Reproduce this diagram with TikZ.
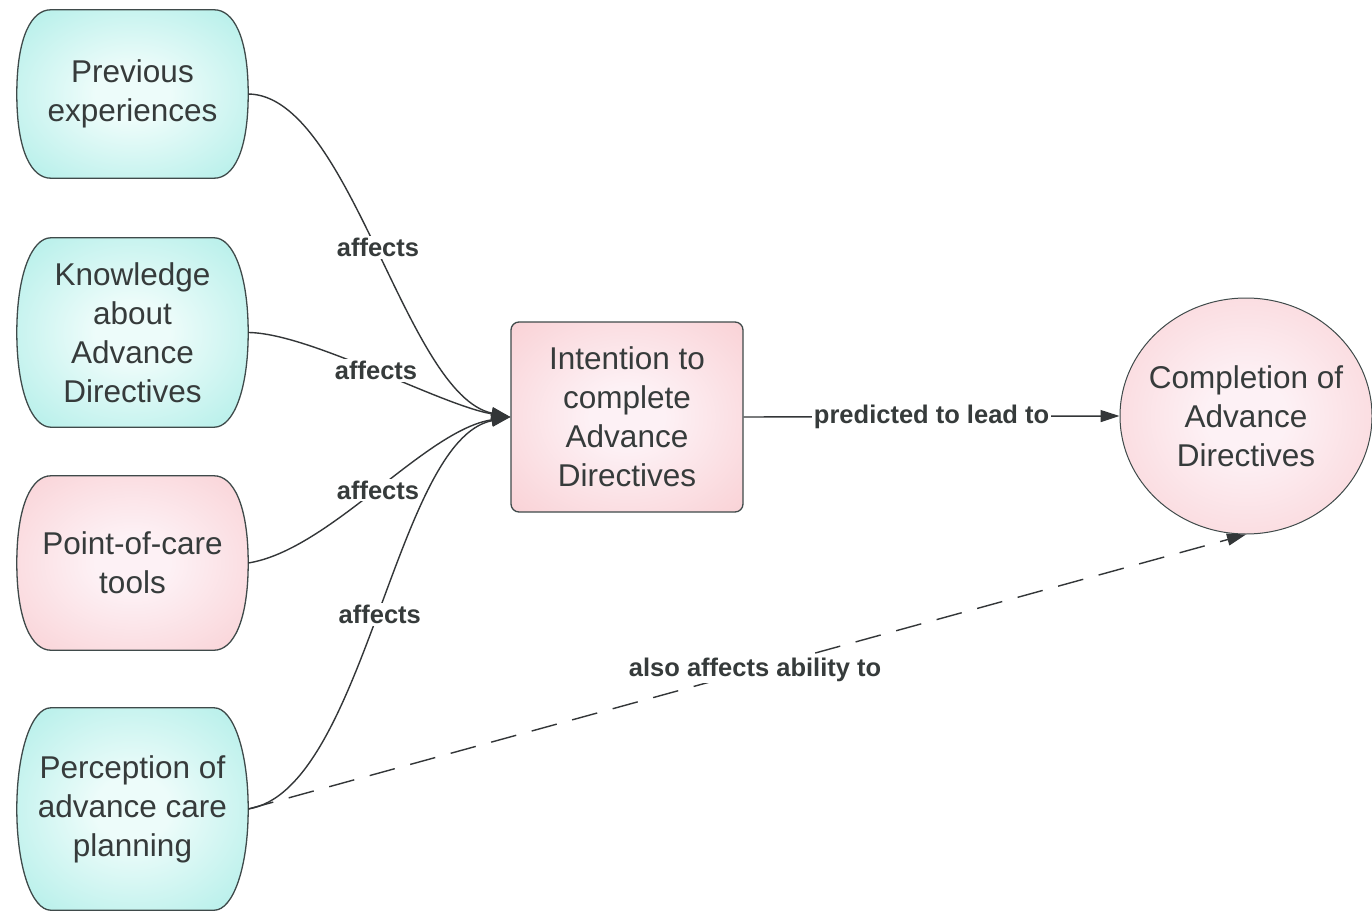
\documentclass[tikz,border=0pt]{standalone}
\usepackage{fontspec}
\setmainfont{Liberation Sans}
\usetikzlibrary{arrows.meta,calc,backgrounds,shapes.geometric}

\definecolor{ink}{HTML}{363B3B}
\definecolor{rim}{HTML}{3F4A4A}
\definecolor{wire}{HTML}{333638}
\definecolor{tealout}{HTML}{9EE8E1}
\definecolor{tealmid}{HTML}{BDF1EC}
\definecolor{tealin}{HTML}{EDFCFA}
\definecolor{pinkout}{HTML}{F7C6CA}
\definecolor{pinkmid}{HTML}{FAD8DC}
\definecolor{pinkin}{HTML}{FDF1F5}

% soft radial fills that reach the full colour only at the outline
\pgfdeclareradialshading{softteal}{\pgfpoint{0bp}{0bp}}{%
  color(0bp)=(tealin); color(8bp)=(tealin); color(30bp)=(tealmid);
  color(47bp)=(tealout); color(75bp)=(tealout)}
\pgfdeclareradialshading{softpink}{\pgfpoint{0bp}{0bp}}{%
  color(0bp)=(pinkin); color(8bp)=(pinkin); color(30bp)=(pinkmid);
  color(47bp)=(pinkout); color(75bp)=(pinkout)}

% barrel outline: flat top and bottom, bulging sides, built on a node's anchors
\newcommand\barrelpath[1]{%
  ($(#1.north west)+(34,0)$) -- ($(#1.north east)+(-34,0)$)
  .. controls ($(#1.north east)+(-15,0)$) and ($(#1.east)+(0,-58)$) .. (#1.east)
  .. controls ($(#1.east)+(0,58)$) and ($(#1.south east)+(-15,0)$) .. ($(#1.south east)+(-34,0)$)
  -- ($(#1.south west)+(34,0)$)
  .. controls ($(#1.south west)+(15,0)$) and ($(#1.west)+(0,58)$) .. (#1.west)
  .. controls ($(#1.west)+(0,-58)$) and ($(#1.north west)+(15,0)$) .. cycle}

\tikzset{
  txt/.style={text=ink, font=\fontsize{31.5}{39}\selectfont, align=center, inner sep=0pt},
  factor/.style={txt, minimum width=231pt},
  tealfill/.style={shading=softteal, draw=rim, line width=1.3pt},
  pinkfill/.style={shading=softpink, draw=rim, line width=1.3pt},
  intentbox/.style={txt, pinkfill, shade, rounded corners=8pt, minimum width=232pt, minimum height=190pt},
  goal/.style={txt, pinkfill, shade, ellipse, inner xsep=-10pt, minimum width=252pt, minimum height=236pt, line width=1pt},
  link/.style={draw=wire, line width=1.4pt, -{Triangle[length=19pt,width=12pt]}},
  dashlink/.style={link, dash pattern=on 26pt off 16pt},
  lbl/.style={fill=white, inner sep=2pt, text=ink, font=\fontsize{25.5}{30}\selectfont\bfseries}
}

\begin{document}
\begin{tikzpicture}[x=1pt,y=-1pt]
  \useasboundingbox (0,0) rectangle (1372,912);

  % influencing factors
  \node[factor, minimum height=168pt] (prev) at (132.5,94) {Previous\\experiences};
  \node[factor, minimum height=189pt] (know) at (132.5,332.5) {Knowledge\\about\\Advance\\Directives};
  \node[factor, minimum height=174pt] (poc)  at (132.5,563) {Point-of-care\\tools};
  \node[factor, minimum height=202pt] (perc) at (132.5,809) {Perception of\\advance care\\planning};

  \begin{scope}[on background layer]
    \fill[white] (0,0) rectangle (1372,912);
    \shadedraw[tealfill] \barrelpath{prev};
    \shadedraw[tealfill] \barrelpath{know};
    \shadedraw[pinkfill] \barrelpath{poc};
    \shadedraw[tealfill] \barrelpath{perc};
  \end{scope}

  % intention and outcome
  \node[intentbox] (intent) at (627,417) {Intention to\\complete\\Advance\\Directives};
  \node[goal] (done) at (1246,416) {Completion of\\Advance\\Directives};

  % influences on intention
  \draw[link] (prev.east) .. controls (350,95) and (405,395) .. (intent.west)
    node[lbl, pos=0.5] {affects};
  \draw[link] (know.east) .. controls (310,333) and (440,405) .. (intent.west)
    node[lbl, pos=0.5] {affects};
  \draw[link] (poc.east) .. controls (330,550) and (425,430) .. (intent.west)
    node[lbl, pos=0.5] {affects};
  \draw[link] (perc.east) .. controls (365,790) and (395,440) .. (intent.west)
    node[lbl, pos=0.5] {affects};

  % intention to outcome
  \draw[link] (intent.east) -- (done.west)
    node[lbl, pos=0.5] {predicted to lead to};

  % direct effect of perception on outcome
  \draw[dashlink] (perc.east) -- (done.south)
    node[lbl, pos=0.508] {also affects ability to};
\end{tikzpicture}
\end{document}
